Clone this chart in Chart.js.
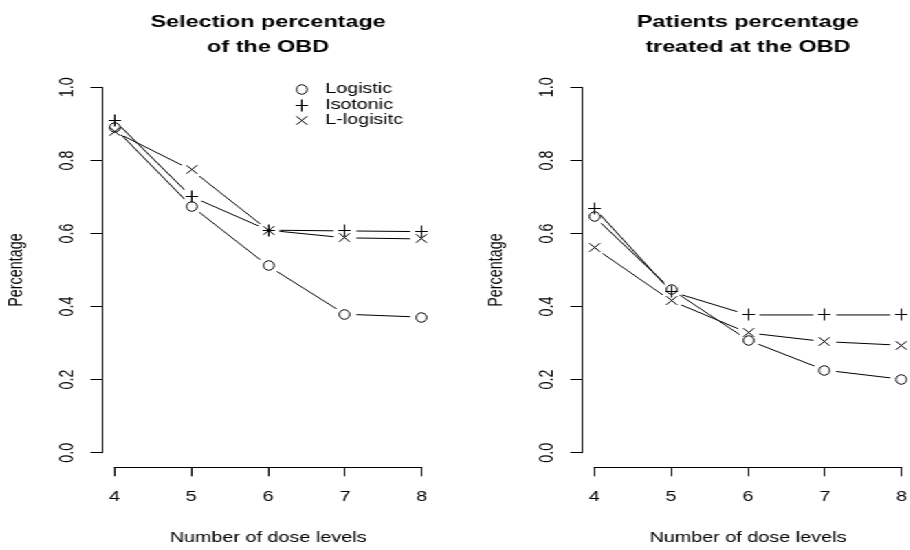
<!DOCTYPE html>
<html>
<head>
<meta charset="utf-8">
<script src="https://cdn.jsdelivr.net/npm/chart.js@4.4.1/dist/chart.umd.min.js"></script>
<style>
  html, body { margin: 0; padding: 0; background: #fff; overflow: hidden; }
  /* the reference is stretched sideways, so draw narrow and widen it */
  #stage { position: absolute; left: 0; top: 0; width: 662px; height: 550px;
           transform: scaleX(1.375); transform-origin: 0 0; }
  canvas { position: absolute; top: 0; }
  #left { left: 0; }
  #right { left: 349px; }
</style>
</head>
<body>
<div id="stage">
  <canvas id="left" width="330" height="550"></canvas>
  <canvas id="right" width="330" height="550"></canvas>
</div>
<script>
// DATA
const doses = [4, 5, 6, 7, 8];
const methods = ["Logistic", "Isotonic", "L-logisitc"];

const selLogistic = [0.889, 0.675, 0.511, 0.379, 0.371];
const selIsotonic = [0.909, 0.701, 0.609, 0.607, 0.605];
const selLLogistic = [0.879, 0.774, 0.609, 0.588, 0.585];

const patLogistic = [0.646, 0.447, 0.308, 0.226, 0.201];
const patIsotonic = [0.669, 0.441, 0.377, 0.377, 0.377];
const patLLogistic = [0.561, 0.416, 0.328, 0.304, 0.294];

const xTicks = [4, 5, 6, 7, 8];
const yTicks = [0, 0.2, 0.4, 0.6, 0.8, 1.0];

//STYLE
const FONT = '"Liberation Sans", Arial, Helvetica, sans-serif';
const SX = 1.375; // same as the css scaleX
const GAP = 8.5;

// symbols are drawn squeezed so they come out the right shape after the stretch
function makeSymbol(style, w, h) {
  const rx = w / 2 / SX, ry = h / 2;
  const c = document.createElement("canvas");
  c.width = 2 * Math.ceil(rx) + 3;   // odd sizes keep the centre on a half pixel
  c.height = 2 * Math.ceil(ry) + 3;
  const g = c.getContext("2d");
  const cx = c.width / 2, cy = c.height / 2;
  g.strokeStyle = "#000";
  g.lineWidth = 1;
  g.beginPath();
  if (style === "circle") {
    g.ellipse(cx, cy, rx, ry, 0, 0, Math.PI * 2);
  } else if (style === "cross") {
    g.moveTo(cx - rx, cy); g.lineTo(cx + rx, cy);
    g.moveTo(cx, cy - ry); g.lineTo(cx, cy + ry);
  } else {
    g.moveTo(cx - rx, cy - ry); g.lineTo(cx + rx, cy + ry);
    g.moveTo(cx - rx, cy + ry); g.lineTo(cx + rx, cy - ry);
  }
  g.stroke();
  return c;
}
const symbols = [
  makeSymbol("circle", 10.5, 9.5),
  makeSymbol("cross", 12.5, 12),
  makeSymbol("crossRot", 10.7, 8.6)
];

function pad(lo, hi) {
  const d = (hi - lo) * 0.04;
  return [lo - d, hi + d];
}
const xRange = pad(xTicks[0], xTicks[xTicks.length - 1]);
const yRange = pad(yTicks[0], yTicks[yTicks.length - 1]);

function buildDatasets(series) {
  const out = [];
  series.forEach((vals, i) => {
    const pts = doses.map((d, k) => ({ x: d, y: vals[k] }));
    // line part (with gaps cut round the points, like R type="b")
    out.push({
      data: pts, showLine: true, gapLine: true,
      borderColor: "#000", borderWidth: 1, pointRadius: 0, fill: false
    });
    // symbol part
    out.push({
      label: methods[i], data: pts, showLine: false,
      pointStyle: symbols[i], pointRadius: 6
    });
  });
  return out;
}

// cut the connecting lines short of each point
const gapPlugin = {
  id: "gaps",
  beforeDatasetsDraw(chart) {
    chart.ctx.imageSmoothingEnabled = false;
  },
  beforeDatasetDraw(chart, args) {
    if (!chart.data.datasets[args.index].gapLine) return;
    const ctx = chart.ctx;
    ctx.save();
    ctx.beginPath();
    ctx.rect(0, 0, chart.width, chart.height);
    args.meta.data.forEach(p => {
      ctx.moveTo(p.x + GAP, p.y);
      ctx.arc(p.x, p.y, GAP, 0, Math.PI * 2);
    });
    ctx.clip("evenodd");
  },
  afterDatasetDraw(chart, args) {
    if (chart.data.datasets[args.index].gapLine) chart.ctx.restore();
  }
};

// R style axis lines that only run between the first and last tick
const axisLines = {
  id: "axisLines",
  afterDraw(chart) {
    const ctx = chart.ctx;
    const x = chart.scales.x, y = chart.scales.y;
    const ax = Math.round(y.right) + 0.5;
    const ay = Math.round(x.top) + 0.5;
    ctx.save();
    ctx.strokeStyle = "#000";
    ctx.lineWidth = 1;
    ctx.beginPath();
    ctx.moveTo(ax, y.getPixelForValue(yTicks[0]) + 0.5);
    ctx.lineTo(ax, y.getPixelForValue(yTicks[yTicks.length - 1]) - 0.5);
    ctx.moveTo(x.getPixelForValue(xTicks[0]) - 0.5, ay);
    ctx.lineTo(x.getPixelForValue(xTicks[xTicks.length - 1]) + 0.5, ay);
    ctx.stroke();
    ctx.restore();
  }
};

// legend in the top right of the plot, symbols only
const rLegend = {
  id: "rlegend",
  afterDraw(chart, args, opts) {
    if (!opts.show) return;
    const ctx = chart.ctx;
    const area = chart.chartArea;
    const items = chart.data.datasets.filter(d => d.label);
    ctx.save();
    ctx.imageSmoothingEnabled = false;
    ctx.fillStyle = "#000";
    ctx.font = "14.4px " + FONT;
    ctx.textBaseline = "middle";
    ctx.textAlign = "left";
    items.forEach((d, i) => {
      const cy = area.top + opts.top + i * opts.step;
      const img = d.pointStyle;
      ctx.drawImage(img, Math.round(area.right - opts.symbolRight - img.width / 2),
                    Math.round(cy - img.height / 2));
      ctx.fillText(d.label, area.right - opts.textRight, cy);
    });
    ctx.restore();
  }
};

function makeChart(id, titleLines, series, showLegend) {
  const font = { family: FONT, size: 14.4, lineHeight: 1.2 };
  return new Chart(document.getElementById(id), {
    type: "scatter",
    data: { datasets: buildDatasets(series) },
    options: {
      responsive: false,
      animation: false,
      devicePixelRatio: 1,
      events: [],
      layout: { padding: { left: 0, right: 14.3, top: 0, bottom: 0 } },
      scales: {
        x: {
          type: "linear", min: xRange[0], max: xRange[1],
          afterBuildTicks: s => { s.ticks = xTicks.map(v => ({ value: v })); },
          afterFit: s => { s.height = 82.7; },
          grid: { drawOnChartArea: false, drawTicks: true, tickLength: 9, color: "#000", lineWidth: 1 },
          border: { display: false },
          ticks: { font: font, color: "#000", padding: 12.5, maxRotation: 0, autoSkip: false,
                   callback: v => String(v) },
          title: { display: true, text: "Number of dose levels", font: font, color: "#000",
                   padding: { top: 0, bottom: 3.6 } }
        },
        y: {
          type: "linear", min: yRange[0], max: yRange[1],
          afterBuildTicks: s => { s.ticks = yTicks.map(v => ({ value: v })); },
          afterFit: s => { s.width = 74.3; },
          grid: { drawOnChartArea: false, drawTicks: true, tickLength: 8.5, color: "#000", lineWidth: 1 },
          border: { display: false },
          ticks: { font: font, color: "#000", padding: 6.7, minRotation: 90, maxRotation: 90,
                   crossAlign: "center", autoSkip: false, callback: v => v.toFixed(1) },
          title: { display: true, text: "Percentage", font: font, color: "#000",
                   padding: { top: 3.4, bottom: 0 } }
        }
      },
      plugins: {
        legend: { display: false },
        tooltip: { enabled: false },
        title: {
          display: true, text: titleLines, fullSize: false, color: "#000",
          font: { family: FONT, size: 17, weight: "bold", lineHeight: 1.453 },
          padding: { top: 10.05, bottom: 13.25 }
        },
        rlegend: { show: showLegend, top: 16.8, step: 15.5, symbolRight: 95.8, textRight: 79.3 }
      }
    },
    plugins: [gapPlugin, axisLines, rLegend]
  });
}

makeChart("left", ["Selection percentage", "of the OBD"],
  [selLogistic, selIsotonic, selLLogistic], true);
makeChart("right", ["Patients percentage", "treated at the OBD"],
  [patLogistic, patIsotonic, patLLogistic], false);
</script>
</body>
</html>
